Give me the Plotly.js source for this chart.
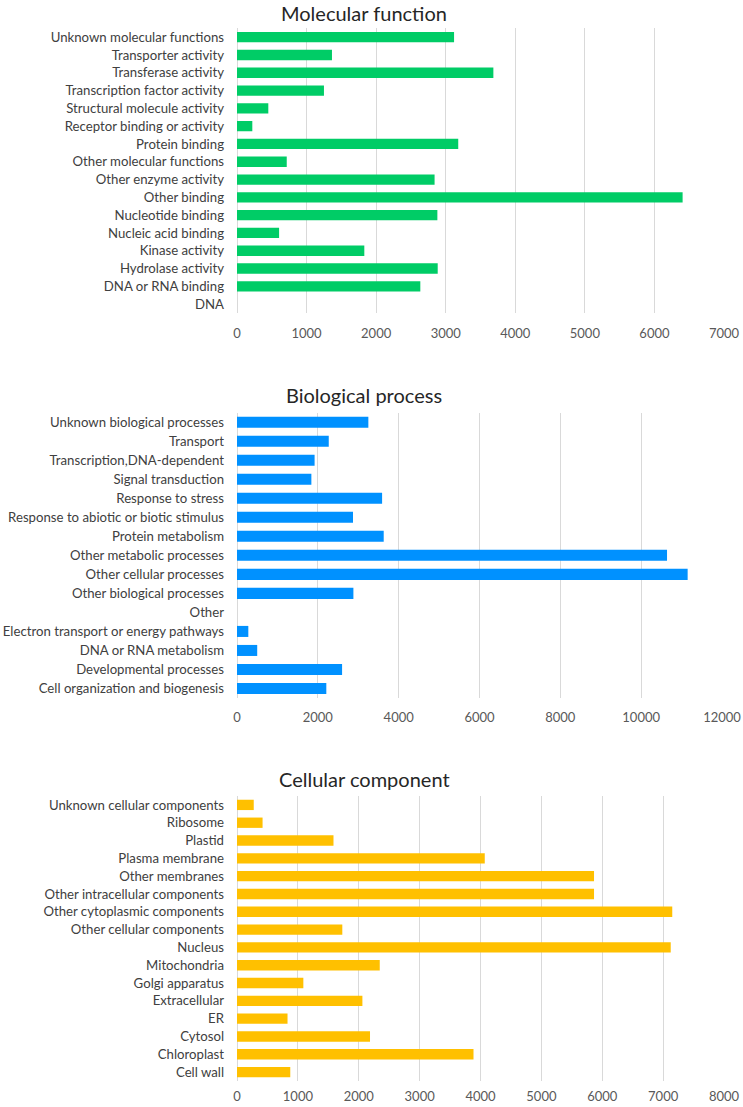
<!DOCTYPE html>
<html>
<head>
<meta charset="utf-8">
<script src="https://cdn.plot.ly/plotly-3.0.1.min.js"></script>
<style>html,body{margin:0;padding:0;background:#fff;}#chart{width:743px;height:1107px;}</style>
</head>
<body>
<div id="chart"></div>
<script>
// Molecular function (top to bottom)
const mfCategories = ["Unknown molecular functions","Transporter activity","Transferase activity","Transcription factor activity","Structural molecule activity","Receptor binding or activity","Protein binding","Other molecular functions","Other enzyme activity","Other binding","Nucleotide binding","Nucleic acid binding","Kinase activity","Hydrolase activity","DNA or RNA binding","DNA"];
const mfValues = [3120, 1365, 3685, 1250, 450, 220, 3180, 715, 2840, 6405, 2880, 605, 1830, 2885, 2635, 0];
const mfTicks = [0, 1000, 2000, 3000, 4000, 5000, 6000, 7000];

// Biological process (top to bottom)
const bpCategories = ["Unknown biological processes","Transport","Transcription,DNA-dependent","Signal transduction","Response to stress","Response to abiotic or biotic stimulus","Protein metabolism","Other metabolic processes","Other cellular processes","Other biological processes","Other","Electron transport or energy pathways","DNA or RNA metabolism","Developmental processes","Cell organization and biogenesis"];
const bpValues = [3250, 2270, 1920, 1840, 3590, 2870, 3630, 10640, 11150, 2880, 0, 280, 500, 2600, 2210];
const bpTicks = [0, 2000, 4000, 6000, 8000, 10000, 12000];

// Cellular component (top to bottom)
const ccCategories = ["Unknown cellular components","Ribosome","Plastid","Plasma membrane","Other membranes","Other intracellular components","Other cytoplasmic components","Other cellular components","Nucleus","Mitochondria","Golgi apparatus","Extracellular","ER","Cytosol","Chloroplast","Cell wall"];
const ccValues = [275, 420, 1585, 4070, 5865, 5865, 7150, 1730, 7125, 2345, 1090, 2060, 830, 2185, 3885, 875];
const ccTicks = [0, 1000, 2000, 3000, 4000, 5000, 6000, 7000, 8000];

const titles = ["Molecular function", "Biological process", "Cellular component"];
const colors = ["#00CC66", "#0091FF", "#FFC000"];

const FONT = "Lato, 'Open Sans', sans-serif";

function bar(cats, vals, color, idx) {
  const s = idx === 1 ? "" : String(idx);
  return {
    type: "bar", orientation: "h",
    y: cats, x: vals,
    marker: { color: color, line: { width: 0 } },
    xaxis: "x" + s, yaxis: "y" + s,
    hoverinfo: "none", showlegend: false
  };
}

const data = [
  bar(mfCategories, mfValues, colors[0], 1),
  bar(bpCategories, bpValues, colors[1], 2),
  bar(ccCategories, ccValues, colors[2], 3)
];

const H = 1107;
function dom(topPx, botPx) { return [1 - botPx / H, 1 - topPx / H]; }

function xax(ticks, anchor, rightPx, standoff) {
  return {
    domain: [237 / 743, rightPx / 743], anchor: anchor,
    range: [0, ticks[ticks.length - 1]],
    tickmode: "array", tickvals: ticks, ticktext: ticks.map(String),
    showgrid: true, gridcolor: "#d9d9d9", gridwidth: 1,
    zeroline: true, zerolinecolor: "#d9d9d9", zerolinewidth: 1,
    showline: false, ticks: "",
    ticklabelstandoff: standoff,
    ticklabeloverflow: "allow",
    tickfont: { family: FONT, size: 13, color: "#595959" },
    fixedrange: true
  };
}
function yax(cats, d, anchor) {
  return {
    domain: d, anchor: anchor,
    type: "category", categoryorder: "array", categoryarray: cats,
    autorange: "reversed",
    showgrid: false, zeroline: false, showline: false, ticks: "",
    ticklabelstandoff: 12,
    tickfont: { family: FONT, size: 13.2, color: "#404040" },
    fixedrange: true
  };
}

const layout = {
  width: 743, height: 1107,
  margin: { l: 0, r: 0, t: 0, b: 0 },
  paper_bgcolor: "#ffffff", plot_bgcolor: "#ffffff",
  bargap: 0.42,
  font: { family: FONT },
  xaxis: xax(mfTicks, "y", 724, 11),
  yaxis: yax(mfCategories, dom(28.3, 313), "x"),
  xaxis2: xax(bpTicks, "y2", 722, 10),
  yaxis2: yax(bpCategories, dom(412.7, 698), "x2"),
  xaxis3: xax(ccTicks, "y3", 724, 6),
  yaxis3: yax(ccCategories, dom(796, 1081), "x3"),
  annotations: [
    { text: titles[0], x: 364 / 743, y: 1 - 13 / H },
    { text: titles[1], x: 364 / 743, y: 1 - 395 / H },
    { text: titles[2], x: 364 / 743, y: 1 - 779 / H }
  ].map(a => Object.assign(a, {
    xref: "paper", yref: "paper", xanchor: "center", yanchor: "middle",
    showarrow: false, font: { family: FONT, size: 20, color: "#262626" }
  }))
};

Plotly.newPlot("chart", data, layout, { staticPlot: true, displayModeBar: false });
</script>
</body>
</html>
